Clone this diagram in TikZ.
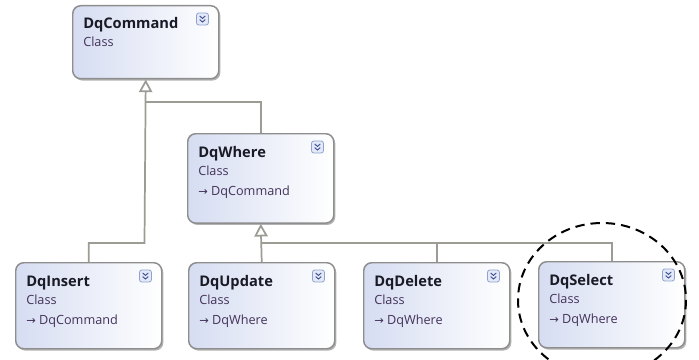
\documentclass[tikz,border=0pt]{standalone}
\usepackage{fontspec}
\setmainfont{Open Sans}
\newfontfamily\djv{DejaVu Sans}
\usetikzlibrary{arrows.meta,calc,shadows}
\definecolor{bord}{HTML}{8E8E8E}
\definecolor{connc}{HTML}{9C9C95}
\definecolor{boxl}{HTML}{D6DDF2}
\definecolor{ttlc}{HTML}{1A1A26}
\definecolor{subc}{HTML}{43325A}
\definecolor{icb}{HTML}{8FA3CF}
\definecolor{icf}{HTML}{E3E9F8}
\definecolor{icc}{HTML}{3E4E8E}
\newcommand\ClassBox[5]{%
  \node[classbox, minimum height=#4] (#1) at (#2,#3) {};
  \node[ttl] (#1-t) at ($(#1.north west)+(11,24)$) {#5};
  \node[sub] (#1-c) at ($(#1.north west)+(11,42)$) {Class};
  \node[icon] (#1-i) at ($(#1.north east)+(-17,14)$) {};
  \draw[chev] ($(#1-i.center)+(-2.8,-3)$) -- ($(#1-i.center)+(0,-0.6)$) -- ($(#1-i.center)+(2.8,-3)$);
  \draw[chev] ($(#1-i.center)+(-2.8,0.6)$) -- ($(#1-i.center)+(0,3)$) -- ($(#1-i.center)+(2.8,0.6)$);
}
\newcommand\BaseRef[2]{%
  \node[sub] (#1-b) at ($(#1.north west)+(11,62)$) {{\djv\fontsize{8.5}{9}\selectfont →}\hspace{2.5pt}#2};
}
\begin{document}
\begin{tikzpicture}[x=0.75pt,y=-0.75pt,
  classbox/.style={draw=bord, line width=1.1pt, rounded corners=6pt,
    left color=boxl, right color=white, minimum width=109.5pt, inner sep=0pt,
    anchor=north west,
    drop shadow={shadow xshift=1.2pt, shadow yshift=-1.4pt, opacity=0.3, fill=black}},
  ttl/.style={anchor=base west, inner sep=0pt, text=ttlc, font=\fontsize{11}{13}\selectfont\bfseries},
  sub/.style={anchor=base west, inner sep=0pt, text=subc, font=\fontsize{9.5}{11}\selectfont},
  icon/.style={draw=icb, fill=icf, rounded corners=1.8pt, minimum size=9pt, inner sep=0pt, line width=0.6pt},
  chev/.style={draw=icc, line width=0.7pt},
  conn/.style={draw=connc, line width=1.3pt},
  inh/.style={conn, -{Triangle[width=10pt, length=9.5pt, fill=white]}}
]
\useasboundingbox (0,0) rectangle (699,360);
\fill[white] (0,0) rectangle (699,360);
\clip (0,0) rectangle (699,360);

\ClassBox{cmd}{72}{5}{54.75pt}{DqCommand}
\ClassBox{where}{187}{133}{67pt}{DqWhere}
\BaseRef{where}{DqCommand}
\ClassBox{ins}{15}{262}{64.5pt}{DqInsert}
\BaseRef{ins}{DqCommand}
\ClassBox{upd}{188}{262}{64.5pt}{DqUpdate}
\BaseRef{upd}{DqWhere}
\ClassBox{del}{363}{262}{64.5pt}{DqDelete}
\BaseRef{del}{DqWhere}
\ClassBox{sel}{538}{261}{64.5pt}{DqSelect}
\BaseRef{sel}{DqWhere}

\coordinate (jc) at (144.5,243);
\coordinate (jw) at (144.5,102);
\coordinate (jb) at (261.5,243);

\draw[inh] (ins.north) |- (jc) -- (cmd.south);
\draw[conn] (where.north) |- (jw);
\draw[inh] (upd.north) -- (where.south);
\draw[conn] (sel.north) |- (jb);
\draw[conn] (del.north) -- (del.north |- jb);

\draw[black, line width=1.5pt, dash pattern=on 7pt off 4.5pt] (602,300) ellipse [x radius=84, y radius=77];
\end{tikzpicture}
\end{document}
